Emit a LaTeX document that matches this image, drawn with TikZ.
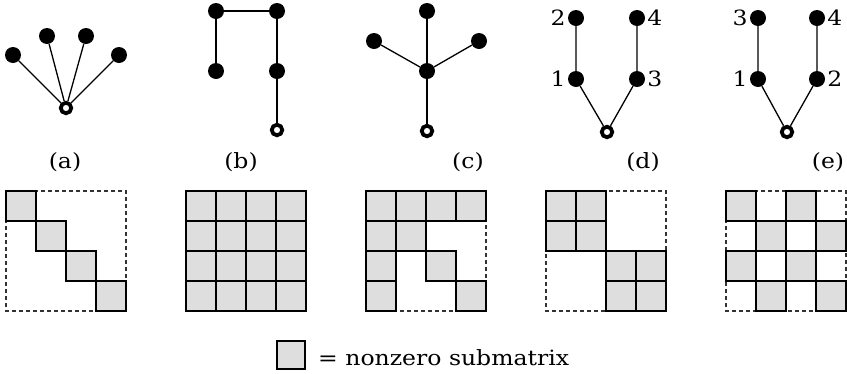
\documentclass[tikz,border=0pt]{standalone}
\usepackage{fontspec}
\setmainfont[FakeStretch=1.12]{DejaVu Serif}
\tikzset{
  leaf/.style={circle,fill=black,minimum size=16pt,inner sep=0pt},
  rootnode/.style={circle,draw=black,fill=white,line width=3.8pt,minimum size=10.5pt,inner sep=0pt},
  edge/.style={line width=1.3pt},
  numlabel/.style={font=\fontsize{21}{23}\selectfont,inner sep=2pt},
  caption/.style={font=\fontsize{21}{23}\selectfont,anchor=base,inner sep=0pt},
  outerdash/.style={draw=black!80,line width=1.1pt,dash pattern=on 4pt off 3pt},
  cellbox/.style={draw=black,fill=black!13,line width=1.2pt},
}
% a 4x4 block pattern: #1 = left edge, #2 = list of row/column of nonzero blocks
\newcommand\blockpattern[2]{%
  \draw[outerdash] (#1,191) rectangle ++(120,120);
  \foreach \r/\c in {#2}
    \draw[cellbox] ({#1+30*(\c-1)},{191+30*(\r-1)}) rectangle ++(30,30);
}
\begin{document}
\begin{tikzpicture}[x=1pt,y=-1pt]
\useasboundingbox (0,0) rectangle (847,373);

% (a) star
\node[rootnode] (a0) at (66,108) {};
\node[leaf] (a1) at (13,55) {};
\node[leaf] (a2) at (47,36) {};
\node[leaf] (a3) at (86,36) {};
\node[leaf] (a4) at (119,55) {};
\foreach \n in {a1,a2,a3,a4} \draw[edge] (a0) -- (\n);

% (b) path
\node[leaf] (b1) at (216,11) {};
\node[leaf] (b2) at (277,11) {};
\node[leaf] (b3) at (216,71) {};
\node[leaf] (b4) at (277,71) {};
\node[rootnode] (b0) at (277,130) {};
\draw[edge] (b3) -- (b1) -- (b2) -- (b4) -- (b0);

% (c) broom
\node[rootnode] (c0) at (427,131) {};
\node[leaf] (c1) at (427,71) {};
\node[leaf] (c2) at (427,11) {};
\node[leaf] (c3) at (374,41) {};
\node[leaf] (c4) at (479,41) {};
\draw[edge] (c0) -- (c1) -- (c2);
\draw[edge] (c1) -- (c3);
\draw[edge] (c1) -- (c4);

% (d) two branches, depth-first numbering
\node[rootnode] (d0) at (607,132) {};
\node[leaf,label={[numlabel]left:1}] (d1) at (576,79) {};
\node[leaf,label={[numlabel]left:2}] (d2) at (576,18) {};
\node[leaf,label={[numlabel]right:3}] (d3) at (637,79) {};
\node[leaf,label={[numlabel]right:4}] (d4) at (637,18) {};
\draw[edge] (d0) -- (d1) -- (d2);
\draw[edge] (d0) -- (d3) -- (d4);

% (e) two branches, breadth-first numbering
\node[rootnode] (e0) at (787,132) {};
\node[leaf,label={[numlabel]left:1}] (e1) at (758,79) {};
\node[leaf,label={[numlabel]left:3}] (e3) at (758,18) {};
\node[leaf,label={[numlabel]right:2}] (e2) at (817,79) {};
\node[leaf,label={[numlabel]right:4}] (e4) at (817,18) {};
\draw[edge] (e0) -- (e1) -- (e3);
\draw[edge] (e0) -- (e2) -- (e4);

% captions
\node[caption] (capa) at (65,168) {(a)};
\node[caption] (capb) at (241,168) {(b)};
\node[caption] (capc) at (468,168) {(c)};
\node[caption] (capd) at (643,168) {(d)};
\node[caption] (cape) at (828,168) {(e)};

% block patterns
\blockpattern{6}{1/1,2/2,3/3,4/4}
\blockpattern{186}{1/1,1/2,1/3,1/4,2/1,2/2,2/3,2/4,3/1,3/2,3/3,3/4,4/1,4/2,4/3,4/4}
\blockpattern{366}{1/1,1/2,1/3,1/4,2/1,2/2,3/1,3/3,4/1,4/4}
\blockpattern{546}{1/1,1/2,2/1,2/2,3/3,3/4,4/3,4/4}
\blockpattern{726}{1/1,1/3,2/2,2/4,3/1,3/3,4/2,4/4}

% legend
\node[cellbox,minimum size=28pt,inner sep=0pt] (key) at (291,355) {};
\node[caption,anchor=base west] (keytext) at (318,365) {= nonzero submatrix};
\end{tikzpicture}
\end{document}
